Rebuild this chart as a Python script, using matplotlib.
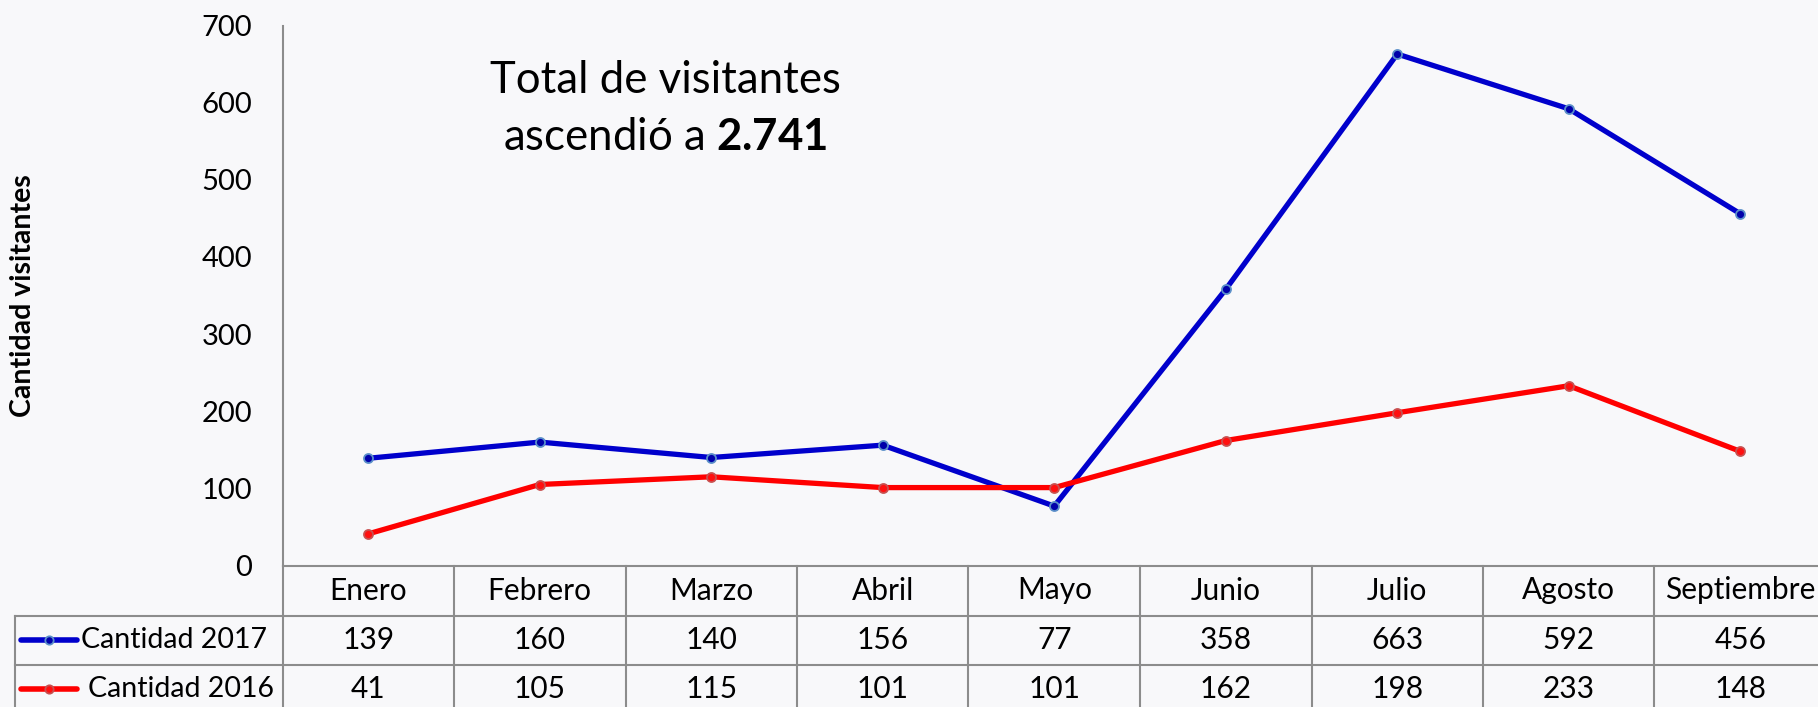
import matplotlib
matplotlib.use('Agg')
import matplotlib.pyplot as plt
import numpy as np

meses = ['Enero', 'Febrero', 'Marzo', 'Abril', 'Mayo', 'Junio', 'Julio', 'Agosto', 'Septiembre']
cant_2017 = [139, 160, 140, 156, 77, 358, 663, 592, 456]
cant_2016 = [41, 105, 115, 101, 101, 162, 198, 233, 148]
series_labels = ['Cantidad 2017', 'Cantidad 2016']
yticks = [0, 100, 200, 300, 400, 500, 600, 700]

plt.rcParams['font.family'] = ['Lato', 'DejaVu Sans']
plt.rcParams['mathtext.fontset'] = 'custom'
plt.rcParams['mathtext.rm'] = 'Lato'
plt.rcParams['mathtext.bf'] = 'Lato:bold'

bg = '#f8f8fa'
grid_c = '#8c8c8c'
fs = 21.5

fig = plt.figure(figsize=(18.18, 7.07), dpi=100, facecolor=bg)
W, H = 1818, 707
# axes: left edge at 282.5px, 0 at 565.5px, 700 at 25.5px, column width 171.5px
ax = fig.add_axes([282.5 / W, (H - 565.5) / H, 9 * 171.5 / W, 540 / H])
ax.set_facecolor(bg)

x = np.arange(len(meses))
ax.plot(x, cant_2017, color='#0000cc', lw=3.8, marker='o', ms=6.5,
        mfc='#0000aa', mec='#5b8fc9', mew=1.3, zorder=3)
ax.plot(x, cant_2016, color='#ff0000', lw=3.8, marker='o', ms=6.5,
        mfc='#ff1010', mec='#c85050', mew=1.3, zorder=3)

ax.set_xlim(-0.5, 8.5)
ax.set_ylim(0, 700)
ax.set_yticks(yticks)
ax.set_xticks([])
ax.tick_params(axis='y', length=0, pad=22, labelsize=21)
for s in ['top', 'right']:
    ax.spines[s].set_visible(False)
for s in ['left', 'bottom']:
    ax.spines[s].set_color(grid_c)
    ax.spines[s].set_linewidth(1.5)

fig.text(23 / W, 1 - 295.5 / H, 'Cantidad visitantes', rotation=90,
         ha='center', va='center', fontsize=20.5, fontweight='bold')

# annotation
xc = (665 - 282.5) / 171.5 - 0.5
ax.text(xc, (565.5 - 92.7) / 540, 'Total de visitantes', ha='center',
        va='baseline', fontsize=31.5, transform=ax.get_xaxis_transform())
ax.text(xc, (565.5 - 150) / 540, r'ascendió a $\mathbf{2.741}$', ha='center',
        va='baseline', fontsize=31.5, transform=ax.get_xaxis_transform())

# data table under the axes
tr = ax.get_xaxis_transform()
rh = 49 / 540
y_hdr = -50 / 540
y_r1 = y_hdr - rh
y_r2 = y_r1 - rh
xl = (15 - 282.5) / 171.5 - 0.5
kw = dict(color=grid_c, lw=1.5, transform=tr, clip_on=False)
for i in range(len(meses) + 1):
    ax.plot([i - 0.5, i - 0.5], [0, y_r2], **kw)
ax.plot([xl, xl], [y_hdr, y_r2], **kw)
ax.plot([xl, 8.5], [y_hdr, y_hdr], **kw)
ax.plot([xl, 8.5], [y_r1, y_r1], **kw)

for i, m in enumerate(meses):
    ax.text(i, y_hdr / 2, m, ha='center', va='center', fontsize=fs, transform=tr)
    ax.text(i, (y_hdr + y_r1) / 2, str(cant_2017[i]), ha='center', va='center',
            fontsize=fs, transform=tr)
    ax.text(i, (y_r1 + y_r2) / 2, str(cant_2016[i]), ha='center', va='center',
            fontsize=fs, transform=tr)

# legend keys in row labels
px = lambda p: (p - 282.5) / 171.5 - 0.5
rows = [((y_hdr + y_r1) / 2, '#0000cc', '#0000aa', '#5b8fc9', 81),
        ((y_r1 + y_r2) / 2, '#ff0000', '#ff1010', '#c85050', 88)]
for (yc, c, fc, ec, tx), lab in zip(rows, series_labels):
    ax.plot([px(21), px(77)], [yc, yc], color=c, lw=4, solid_capstyle='round',
            transform=tr, clip_on=False)
    ax.plot([px(49)], [yc], marker='o', ms=6, mfc=fc, mec=ec, mew=1.3,
            transform=tr, clip_on=False)
    ax.text(px(tx), yc, lab, ha='left', va='center', fontsize=20.5, transform=tr)

fig.savefig('out.png', dpi=100, facecolor=bg)
